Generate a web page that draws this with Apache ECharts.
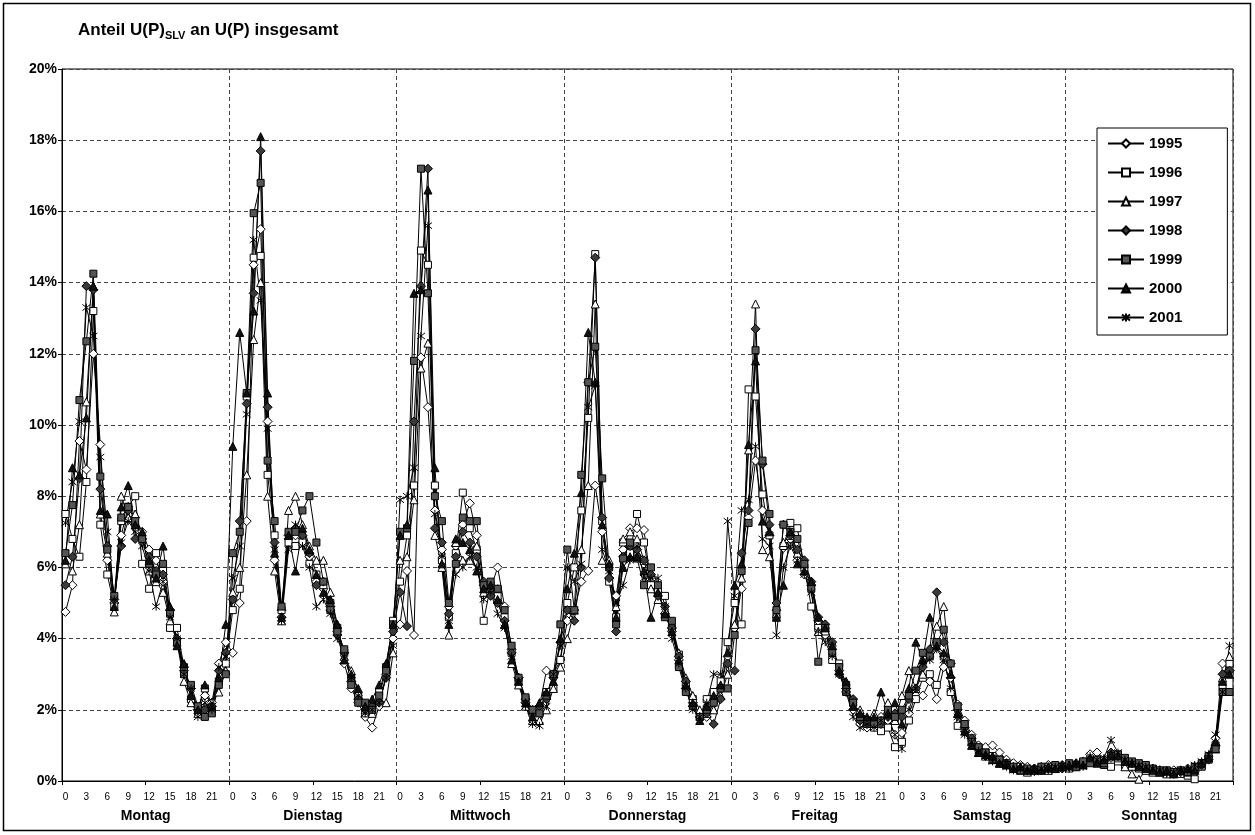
<!DOCTYPE html>
<html>
<head>
<meta charset="utf-8">
<script src="https://cdn.jsdelivr.net/npm/echarts@6/dist/echarts.min.js"></script>
<style>
  html, body { margin: 0; padding: 0; background: #fff; }
  #chart { width: 1255px; height: 835px; }
</style>
</head>
<body>
<div id="chart"></div>
<script>
// Share of U(P)SLV in total U(P), hourly, Monday to Sunday, one line per year (values in %)
const days = ['Montag', 'Dienstag', 'Mittwoch', 'Donnerstag', 'Freitag', 'Samstag', 'Sonntag'];
const hourLabels = ['0','1','2','3','4','5','6','7','8','9','10','11','12','13','14','15','16','17','18','19','20','21','22','23'];
const years = ['1995', '1996', '1997', '1998', '1999', '2000', '2001'];

const y1995 = [
  4.75,5.5,9.55,8.75,12.0,9.45,6.2,5.0,6.9,7.7,7.4,7.0,6.5,6.2,5.6,4.8,4.0,3.1,2.6,2.0,2.4,2.2,3.3,3.9,
  3.6,5.0,7.3,14.5,15.5,10.1,6.2,4.8,6.8,6.9,6.7,6.3,5.6,5.4,4.8,4.2,3.3,2.6,2.2,1.8,1.5,2.1,3.0,4.0,
  4.4,5.9,4.1,11.9,10.5,7.6,6.5,4.9,6.6,7.2,7.8,6.9,5.5,5.4,6.0,4.9,3.7,2.9,2.3,2.0,2.1,3.1,3.0,3.4,
  4.5,4.8,5.6,5.9,8.3,7.0,5.7,5.2,6.5,7.1,7.1,7.05,5.5,5.3,4.7,4.2,3.4,2.6,2.2,1.9,1.8,2.2,2.6,3.5,
  4.3,5.4,7.4,9.0,7.6,6.9,4.8,6.55,6.8,6.2,5.8,5.5,4.5,4.1,3.7,3.1,2.5,2.0,1.6,1.5,1.6,1.8,1.7,1.3,
  1.35,1.9,2.4,2.4,2.8,2.3,3.2,2.9,2.15,1.7,1.3,1.0,0.95,1.0,0.8,0.6,0.5,0.45,0.4,0.35,0.4,0.45,0.4,0.45,
  0.4,0.5,0.55,0.75,0.8,0.6,0.65,0.6,0.55,0.45,0.4,0.35,0.3,0.3,0.25,0.3,0.3,0.35,0.4,0.5,0.7,1.2,3.3,3.1
];
const y1996 = [
  7.5,6.8,6.3,8.4,13.2,7.2,5.8,4.9,7.3,7.7,8.0,6.1,5.4,6.4,5.9,4.3,4.3,3.2,2.3,2.0,2.6,2.0,2.8,3.3,
  4.8,5.4,10.8,14.7,14.75,8.6,6.9,4.8,6.7,6.6,6.7,6.1,5.8,5.5,5.0,4.3,3.6,2.9,2.4,1.9,2.0,2.5,3.2,4.5,
  5.6,6.9,8.3,14.9,14.5,8.3,6.2,4.6,6.4,8.1,7.1,6.5,4.5,5.5,5.2,4.6,3.6,2.8,2.3,1.9,2.0,2.5,2.6,3.4,
  5.0,6.0,7.6,10.2,14.8,7.3,5.6,4.6,6.7,6.4,7.5,6.7,5.5,5.4,5.2,4.3,3.55,2.7,2.3,1.8,2.3,2.5,2.8,3.9,
  5.0,4.4,11.0,10.8,8.05,6.9,4.6,6.6,7.25,7.1,6.0,4.9,4.3,4.2,3.4,3.3,2.7,2.2,1.8,1.6,1.5,1.4,1.5,0.95,
  1.1,1.7,2.3,2.9,3.0,2.7,3.5,2.5,1.55,1.6,1.2,0.9,0.8,0.7,0.6,0.5,0.35,0.4,0.3,0.3,0.35,0.4,0.35,0.4,
  0.35,0.45,0.5,0.6,0.55,0.45,0.4,0.55,0.45,0.4,0.35,0.3,0.3,0.25,0.2,0.25,0.2,0.15,0.05,0.4,0.6,1.0,2.7,3.3
];
const y1997 = [
  6.1,5.9,7.2,10.65,13.9,7.5,6.4,4.75,8.0,7.4,7.5,6.9,5.9,5.6,5.3,4.5,3.9,2.8,2.2,1.9,2.1,2.2,2.5,3.1,
  5.3,6.0,8.6,12.4,14.0,8.0,5.9,4.5,7.6,8.0,7.2,6.6,6.2,6.2,5.3,4.4,3.5,3.1,2.5,2.0,1.9,2.3,2.2,3.6,
  6.2,6.3,7.9,11.6,12.3,6.9,6.0,4.1,6.7,6.2,6.2,6.6,5.3,5.3,5.4,4.4,3.3,2.7,2.1,1.7,1.7,2.0,2.6,3.2,
  4.0,4.8,6.5,8.3,13.4,6.2,6.2,4.9,6.8,7.0,6.8,6.2,5.4,5.1,4.8,4.4,3.6,2.9,2.4,2.0,1.9,2.0,2.4,3.0,
  4.4,5.7,9.3,13.4,6.5,6.3,4.7,6.7,6.9,6.4,6.1,5.6,4.2,4.4,3.9,3.1,2.7,2.1,2.0,1.7,1.9,1.7,2.2,1.7,
  2.4,3.1,2.6,3.0,3.6,4.35,4.9,3.0,1.9,1.5,1.1,0.8,0.7,0.6,0.5,0.45,0.4,0.3,0.25,0.3,0.35,0.3,0.35,0.4,
  0.45,0.4,0.5,0.55,0.6,0.5,0.7,0.65,0.4,0.2,0.05,0.3,0.25,0.25,0.2,0.25,0.3,0.25,0.35,0.45,0.65,0.9,2.9,3.5
];
const y1998 = [
  5.5,6.3,8.5,13.9,13.8,8.2,6.6,5.1,6.6,7.6,6.8,6.8,6.3,5.9,5.8,4.8,4.0,3.2,2.6,2.0,2.0,2.1,3.1,3.6,
  5.1,7.3,10.6,13.7,17.7,10.5,6.7,4.6,6.9,7.1,6.9,6.4,5.5,5.6,4.9,4.1,3.6,2.8,2.3,2.0,2.1,2.2,2.9,4.2,
  5.3,4.35,10.1,13.9,17.2,7.1,6.7,4.7,6.3,7.0,6.7,6.3,5.6,5.2,5.0,4.5,3.6,2.9,2.2,1.9,2.1,2.3,2.9,3.9,
  4.8,4.5,6.0,11.2,14.7,7.4,5.7,4.2,6.3,6.6,6.5,6.2,5.8,5.2,4.9,4.3,3.5,2.8,2.1,1.8,1.9,1.6,2.3,3.3,
  3.1,6.4,7.6,12.7,8.9,7.2,5.0,7.2,6.9,6.5,6.2,5.6,4.6,4.4,3.9,3.0,2.6,2.3,1.7,1.6,1.7,1.6,1.8,1.9,
  1.8,2.3,2.6,3.2,3.7,5.3,3.9,3.3,2.0,1.5,1.2,0.9,0.7,0.65,0.55,0.5,0.4,0.35,0.3,0.35,0.3,0.35,0.4,0.35,
  0.4,0.45,0.5,0.6,0.55,0.55,0.8,0.7,0.6,0.5,0.45,0.4,0.35,0.3,0.25,0.2,0.25,0.3,0.35,0.45,0.6,1.0,3.0,3.1
];
const y1999 = [
  6.4,7.75,10.7,12.35,14.25,8.55,6.5,5.2,7.4,7.7,7.3,6.8,6.1,5.8,6.1,4.7,3.9,3.0,2.7,2.1,1.8,1.9,2.7,3.0,
  6.4,7.0,10.9,15.95,16.8,9.0,7.3,4.9,7.0,7.0,7.6,8.0,6.7,5.6,4.8,4.2,3.7,2.7,2.2,2.2,2.0,2.4,3.1,4.4,
  7.0,7.1,11.8,17.2,13.7,8.0,7.3,5.0,6.1,7.4,7.3,7.3,5.5,5.6,5.4,4.8,3.8,2.9,2.35,2.0,1.9,2.4,3.0,4.4,
  6.5,4.8,8.6,11.2,12.2,8.5,6.0,4.4,6.25,6.7,6.25,5.5,6.0,5.5,4.6,4.5,3.2,2.5,2.1,1.8,2.0,2.2,2.6,2.6,
  4.1,5.9,7.25,12.1,9.0,7.5,4.8,7.2,7.0,6.8,6.1,5.4,3.35,4.3,3.6,3.2,2.5,2.2,1.8,1.7,1.6,1.7,2.0,1.8,
  2.0,2.4,3.1,3.6,3.5,3.9,4.25,3.3,2.1,1.6,1.1,0.95,0.8,0.6,0.6,0.45,0.4,0.3,0.35,0.3,0.4,0.35,0.45,0.4,
  0.5,0.4,0.55,0.5,0.6,0.5,0.7,0.75,0.65,0.55,0.5,0.45,0.35,0.3,0.3,0.25,0.3,0.25,0.4,0.5,0.7,0.9,2.5,2.5
];
const y2000 = [
  6.2,8.8,8.6,10.2,13.9,7.6,7.5,4.9,7.7,8.3,7.2,7.0,6.2,5.7,6.6,4.9,3.8,3.3,2.4,2.0,2.7,2.1,2.9,4.4,
  9.4,12.6,10.9,13.2,18.1,10.9,6.4,4.6,6.9,5.9,7.1,6.5,5.8,5.3,5.1,4.4,3.4,3.0,2.6,2.1,2.3,2.7,3.3,4.4,
  6.9,7.2,13.7,13.8,16.6,8.8,6.1,4.4,6.8,6.7,6.5,5.9,5.4,5.5,5.1,4.4,3.4,2.8,2.2,1.8,2.2,2.5,2.8,4.0,
  5.4,6.4,8.1,12.6,11.2,7.2,6.1,4.6,6.0,6.3,6.3,5.9,4.6,5.3,4.7,4.2,3.4,2.7,2.2,1.7,2.1,2.4,2.7,3.6,
  5.5,6.1,9.45,11.8,7.3,7.0,4.6,5.5,7.0,6.1,5.9,5.6,4.6,4.3,3.8,3.1,2.8,2.1,1.9,1.8,1.8,2.5,1.9,2.2,
  1.6,2.6,3.9,3.4,4.6,3.8,3.6,3.0,1.9,1.4,1.0,0.8,0.75,0.7,0.5,0.5,0.35,0.4,0.3,0.35,0.3,0.4,0.35,0.45,
  0.45,0.5,0.45,0.65,0.5,0.6,0.75,0.7,0.55,0.5,0.4,0.35,0.3,0.25,0.3,0.2,0.3,0.35,0.3,0.5,0.65,1.1,2.8,3.0
];
const y2001 = [
  7.25,8.4,10.1,13.3,12.5,9.1,7.0,5.1,6.7,7.3,7.0,6.6,5.9,4.9,5.6,4.6,4.0,3.0,2.6,1.8,2.2,2.0,3.2,3.5,
  5.7,6.6,10.3,15.2,13.5,9.9,6.5,4.5,6.5,7.2,6.6,6.0,4.9,5.1,4.7,4.0,3.5,2.9,2.4,1.9,2.0,2.2,2.9,3.8,
  7.9,8.0,8.8,12.5,15.6,7.5,6.3,4.5,5.8,6.0,6.3,6.0,5.1,5.3,4.7,4.3,3.5,2.8,2.1,1.6,1.55,2.1,3.0,3.8,
  6.0,5.6,6.1,10.5,11.1,6.5,5.9,5.0,5.5,6.2,6.6,5.7,5.7,5.7,4.9,4.0,3.3,2.6,2.0,1.8,2.2,3.0,3.0,7.3,
  5.2,7.6,7.9,9.4,6.8,6.6,4.1,6.0,6.6,6.2,5.8,5.3,4.2,3.9,3.5,3.0,2.5,1.8,1.5,1.6,1.5,1.7,1.8,1.3,
  0.9,2.0,2.6,3.3,3.4,3.7,3.4,2.6,1.8,1.3,1.1,0.85,0.7,0.55,0.5,0.4,0.3,0.35,0.3,0.25,0.35,0.3,0.4,0.35,
  0.35,0.45,0.4,0.7,0.6,0.65,1.15,0.8,0.6,0.5,0.45,0.4,0.35,0.3,0.2,0.25,0.3,0.3,0.45,0.55,0.75,1.3,2.5,3.8
];

const yearValues = [y1995, y1996, y1997, y1998, y1999, y2000, y2001];

// one category per hour of the week
const categories = [];
days.forEach(function (d) { hourLabels.forEach(function (h) { categories.push(h); }); });

const FONT = '"Liberation Sans", Arial, Helvetica, sans-serif';
const ASTERISK = 'path://M5,0L5,10M1.2,1.2L8.8,8.8M8.8,1.2L1.2,8.8';

const markerStyles = [
  { symbol: 'diamond',  size: 9, fill: '#ffffff' },
  { symbol: 'rect',     size: 7, fill: '#ffffff' },
  { symbol: 'triangle', size: 8, fill: '#ffffff' },
  { symbol: 'diamond',  size: 9, fill: '#3a3a3a' },
  { symbol: 'rect',     size: 7, fill: '#555555' },
  { symbol: 'triangle', size: 8, fill: '#111111' },
  { symbol: ASTERISK,   size: 8, fill: '#000000' }
];

const series = years.map(function (name, i) {
  const m = markerStyles[i];
  return {
    name: name,
    type: 'line',
    xAxisIndex: 0,
    yAxisIndex: 0,
    data: yearValues[i],
    symbol: m.symbol,
    symbolSize: m.size,
    showAllSymbol: true,
    animation: false,
    lineStyle: { color: '#000', width: 1 },
    itemStyle: { color: m.fill, borderColor: '#000', borderWidth: 1 },
    emphasis: { disabled: true }
  };
});

const chart = echarts.init(document.getElementById('chart'), null, { renderer: 'canvas' });
chart.setOption({
  backgroundColor: '#ffffff',
  animation: false,
  grid: {
    left: 62, right: 22, top: 69, bottom: 54,
    show: true, borderColor: '#000', borderWidth: 1, backgroundColor: 'transparent'
  },
  legend: {
    orient: 'vertical',
    left: 1097, top: 128,
    data: years,
    itemWidth: 36, itemHeight: 10, itemGap: 14,
    padding: [8, 45, 10, 10],
    borderColor: '#000', borderWidth: 1,
    backgroundColor: '#fff',
    textStyle: { fontFamily: FONT, fontWeight: 'bold', fontSize: 15, color: '#000', lineHeight: 14 }
  },
  xAxis: [
    {
      type: 'category',
      data: categories,
      boundaryGap: true,
      axisLine: { show: true, lineStyle: { color: '#000', width: 1 } },
      axisTick: { show: true, length: 4, interval: function (i) { return i % 12 === 0; }, lineStyle: { color: '#000' } },
      axisLabel: {
        interval: function (i) { return i % 3 === 0; },
        fontFamily: FONT, fontSize: 10, color: '#000', margin: 11
      },
      splitLine: {
        show: true,
        interval: function (i) { return i % 24 === 0; },
        lineStyle: { color: '#444', width: 1, type: [4, 3] }
      }
    },
    {
      type: 'category',
      data: days,
      position: 'bottom',
      boundaryGap: true,
      axisLine: { show: false },
      axisTick: { show: false },
      splitLine: { show: false },
      axisLabel: { fontFamily: FONT, fontWeight: 'bold', fontSize: 14, color: '#000', margin: 28 }
    }
  ],
  yAxis: {
    type: 'value',
    min: 0, max: 20, interval: 2,
    axisLine: { show: true, lineStyle: { color: '#000', width: 1 } },
    axisTick: { show: true, length: 4, lineStyle: { color: '#000' } },
    axisLabel: { formatter: '{value}%', fontFamily: FONT, fontWeight: 'bold', fontSize: 14, color: '#000', margin: 5 },
    splitLine: { show: true, lineStyle: { color: '#444', width: 1, type: [4, 3] } }
  },
  graphic: [
    {
      type: 'rect', silent: true, z: 100,
      shape: { x: 3.5, y: 3.5, width: 1247, height: 827 },
      style: { fill: 'none', stroke: '#000', lineWidth: 1.5 }
    },
    {
      type: 'text', left: 78, top: 22, silent: true,
      style: {
        text: '{a|Anteil U(P)}{s|SLV}{a| an U(P) insgesamt}',
        rich: {
          a: { fontFamily: FONT, fontWeight: 'bold', fontSize: 17, fill: '#000', lineHeight: 21, verticalAlign: 'bottom' },
          s: { fontFamily: FONT, fontWeight: 'bold', fontSize: 11, fill: '#000', lineHeight: 12, verticalAlign: 'bottom', padding: [0, 0, -2, 0] }
        }
      }
    }
  ],
  series: series
});
</script>
</body>
</html>
